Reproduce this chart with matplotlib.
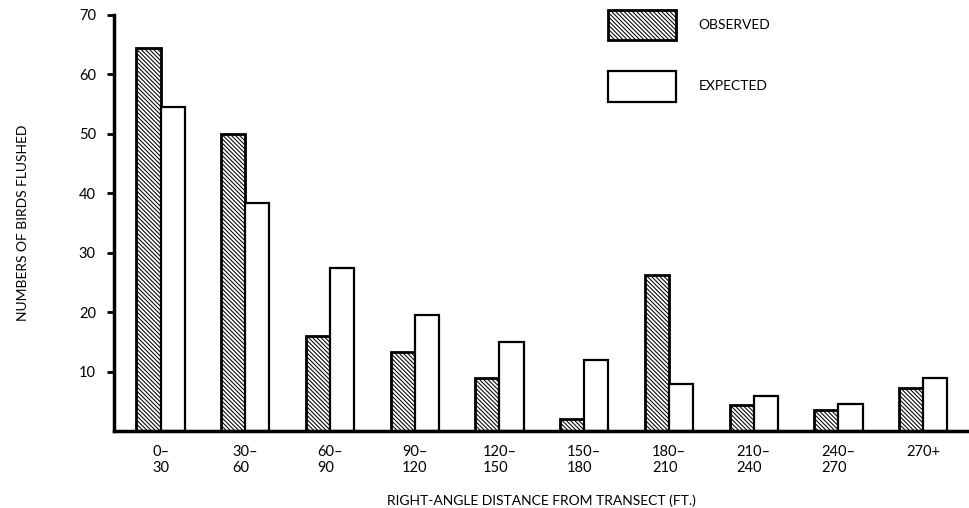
import matplotlib.pyplot as plt
import numpy as np

plt.rcParams["font.family"] = ["Lato", "DejaVu Sans"]
plt.rcParams["hatch.linewidth"] = 0.75

categories = ["0–\n30", "30–\n60", "60–\n90", "90–\n120", "120–\n150",
              "150–\n180", "180–\n210", "210–\n240", "240–\n270", "270+"]
observed = [64.5, 50, 16, 13.3, 8.9, 2.1, 26.2, 4.3, 3.5, 7.3]
expected = [54.5, 38.3, 27.5, 19.5, 15.0, 11.9, 7.9, 5.9, 4.6, 9.0]
y_ticks = [10, 20, 30, 40, 50, 60, 70]

fig = plt.figure(figsize=(9.7, 5.08), dpi=100)
ax = fig.add_axes([0.1175, 0.1516, 0.8805, 0.8189])

x = np.arange(len(categories))
w = 0.285
ax.bar(x - w / 2, observed, w, facecolor="white", edgecolor="black",
       hatch="\\" * 8, linewidth=2.0, label="OBSERVED")
ax.bar(x + w / 2, expected, w, facecolor="white", edgecolor="black",
       linewidth=1.6, label="EXPECTED")

ax.set_xlim(-0.55, 9.53)
ax.set_ylim(0, 70)
ax.set_yticks(y_ticks)
ax.set_yticklabels([str(t) for t in y_ticks], fontsize=10.5)
ax.set_xticks(x)
ax.set_xticklabels(categories, fontsize=10.5, multialignment="left")
ax.tick_params(axis="x", length=0, pad=10)
ax.tick_params(axis="y", length=5, width=2, direction="out", pad=8)

for s in ["top", "right"]:
    ax.spines[s].set_visible(False)
ax.spines["left"].set_linewidth(2.5)
ax.spines["bottom"].set_linewidth(2.5)

ax.set_ylabel("NUMBERS OF BIRDS FLUSHED", fontsize=10, labelpad=36)
ax.set_xlabel("RIGHT-ANGLE DISTANCE FROM TRANSECT (FT.)", fontsize=10, labelpad=14)

ax.legend(loc="upper left", bbox_to_anchor=(608 / 970, 1 - 10 / 508),
          bbox_transform=fig.transFigure, frameon=False, fontsize=10,
          handlelength=4.9, handleheight=3.0, labelspacing=2.2,
          handletextpad=1.6, borderpad=0, borderaxespad=0)

plt.savefig("out.png", dpi=100)
plt.close()
